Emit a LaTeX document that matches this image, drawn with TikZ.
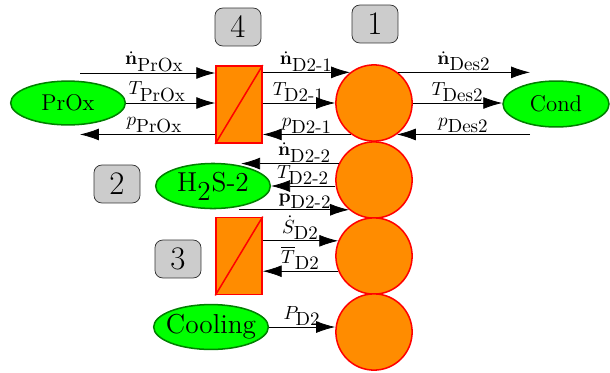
\documentclass[tikz,border=0pt]{standalone}
\usepackage{amsmath,amssymb}
\usepackage{tikz}
\usetikzlibrary{shapes.geometric, arrows.meta, positioning, calc}

\definecolor{unitorange}{RGB}{255,140,0}

\begin{document}
\begin{tikzpicture}[
    x=0.0185cm, y=-0.0185cm,
    unit/.style={circle, draw=red, fill=unitorange, thick, minimum size=1.41cm, inner sep=0pt},
    hex/.style={rectangle, draw=red, fill=unitorange, thick, minimum width=0.85cm, minimum height=1.43cm, inner sep=0pt},
    env/.style={ellipse, draw=green!50!black, fill=green, thick, minimum width=2.12cm, minimum height=0.81cm, inner sep=1pt, font=\large},
    tag/.style={rectangle, rounded corners=4pt, draw=black!80, fill=black!20, minimum width=0.85cm, minimum height=0.7cm, font=\LARGE},
    lbl/.style={above, inner sep=0.5pt},
    arrow/.style={thin, -{Latex[length=0.35cm, width=0.22cm]}}
]

% box / number tags
\useasboundingbox (0,0) rectangle (610,372);
\node[tag] (t4) at (238,27) {4};
\node[tag] (t1) at (375,24) {1};
\node[tag] (t2) at (117,184) {2};
\node[tag] (t3) at (178,259) {3};

% units
\node[unit] (d1) at (374,103) {};
\node[unit] (d2) at (374,180) {};
\node[unit] (d3) at (374,256) {};
\node[unit] (d4) at (374,332) {};
\node[hex] (hx4) at (239,104.5) {};
\node[hex] (hx3) at (239,256) {};
\draw[red, thick] (hx4.south west) -- (hx4.north east);
\draw[red, thick] (hx3.south west) -- (hx3.north east);

% surroundings
\node[env] (prox) at (68,103) {PrOx};
\node[env, minimum width=1.96cm, minimum height=0.85cm] (cond) at (556,104) {Cond};
\node[env, font=\Large, minimum height=0.78cm] (hs) at (213,186) {H$_{\mbox{2}}$S-2};
\node[env, font=\Large, inner xsep=-3pt, minimum height=0.83cm] (cool) at (211,327) {Cooling};

\coordinate (inL) at (80,73);
\coordinate (inR) at (530,73);

% Connectors
\draw[arrow] (inL) -- node[lbl, pos=0.55] {$\dot{\mathbf{n}}_{\mbox{PrOx}}$} (inL -| hx4.west);
\draw[arrow] (prox.east) -- node[lbl, pos=0.35] {$T_{\mbox{PrOx}}$} (prox.east -| hx4.west);
\draw[arrow] (hx4.west |- d1.234) -- node[lbl, pos=0.45] {$p_{\mbox{PrOx}}$} (inL |- d1.234);
\draw[arrow] (d1.128 -| hx4.east) -- node[lbl] {$\dot{\mathbf{n}}_{\mbox{D2-1}}$} (d1.128);
\draw[arrow] (hx4.east |- d1.west) -- node[lbl] {$T_{\mbox{D2-1}}$} (d1.west);
\draw[arrow] (d1.234) -- node[lbl] {$p_{\mbox{D2-1}}$} (d1.234 -| hx4.east);
\draw[arrow] (d1.52) -- node[lbl] {$\dot{\mathbf{n}}_{\mbox{Des2}}$} (d1.52 -| inR);
\draw[arrow] (d1.east) -- node[lbl] {$T_{\mbox{Des2}}$} (d1.east -| cond.west);
\draw[arrow] (d1.306 -| inR) -- node[lbl] {$p_{\mbox{Des2}}$} (d1.306);

\draw[arrow] (d2.155) -- node[lbl, pos=0.35] {$\dot{\mathbf{n}}_{\mbox{D2-2}}$} ($(d2.155 -| hs.east)+(-30,0)$);
\draw[arrow] (d2.west |- hs.east) -- node[lbl] {$T_{\mbox{D2-2}}$} (hs.east);
\draw[arrow] ($(d2.230 -| hs.east)+(-32,0)$) -- node[lbl, pos=0.6] {$\mathbf{p}_{\mbox{D2-2}}$} (d2.230);

\draw[arrow] (d3.157 -| hx3.east) -- node[lbl] {$\dot{S}_{\mbox{D2}}$} (d3.157);
\draw[arrow] (d3.203) -- node[lbl] {$\overline{T}_{\mbox{D2}}$} (d3.203 -| hx3.east);

\draw[arrow] (cool.east) -- node[lbl] {$P_{\mbox{D2}}$} (cool.east -| d4.west);

\end{tikzpicture}
\end{document}
